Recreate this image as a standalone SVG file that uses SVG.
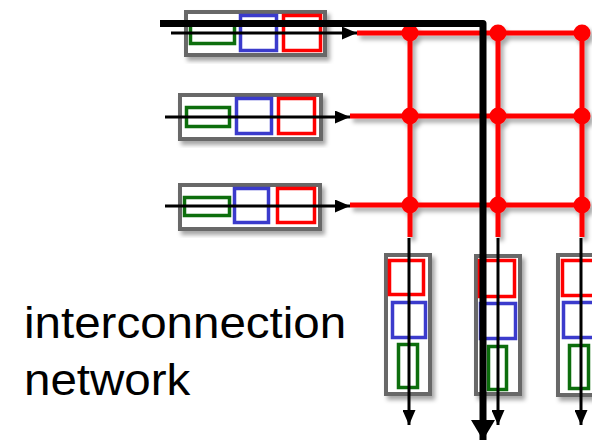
<svg xmlns="http://www.w3.org/2000/svg" width="592" height="441" viewBox="0 0 592 441">
<defs>
<filter id="sh" x="-20%" y="-20%" width="140%" height="140%">
<feDropShadow dx="3" dy="4" stdDeviation="2" flood-color="#000" flood-opacity="0.35"/>
</filter>
<marker id="ah" markerUnits="userSpaceOnUse" markerWidth="15" markerHeight="13" refX="15" refY="6.5" orient="auto">
<path d="M0,0 L15,6.5 L0,13 z" fill="#000"/>
</marker>
<marker id="ahb" markerUnits="userSpaceOnUse" markerWidth="20" markerHeight="24" refX="20" refY="12" orient="auto">
<path d="M0,0 L20,12 L0,24 z" fill="#000"/>
</marker>
</defs>
<style>
.box{fill:#fff;stroke:#686868;stroke-width:4}
.g{fill:none;stroke:#0a6e0a;stroke-width:3.5}
.b{fill:none;stroke:#3a3acc;stroke-width:3.5}
.r{fill:none;stroke:#ff0000;stroke-width:3.5}
.red{stroke:#ff0000;stroke-width:5;fill:none}
.dot{fill:#ff0000}
.thin{stroke:#000;stroke-width:3;fill:none;marker-end:url(#ah)}
.thick{stroke:#000;stroke-width:7;fill:none;stroke-linejoin:round;marker-end:url(#ahb)}
.lbl{font-family:"Liberation Sans",Arial,sans-serif;font-size:44px;fill:#000}
</style>
<g id="in1" filter="url(#sh)">
<rect class="box" x="186" y="12" width="139" height="43"/>
<rect class="g" x="190.5" y="23.5" width="44" height="20"/>
<rect class="b" x="240.5" y="15.5" width="36" height="35"/>
<rect class="r" x="283.5" y="15.5" width="37" height="35"/>
</g>
<g id="in2" filter="url(#sh)">
<rect class="box" x="180" y="95" width="141" height="44"/>
<rect class="g" x="186.5" y="107.5" width="43" height="19"/>
<rect class="b" x="236.5" y="98.5" width="35" height="35"/>
<rect class="r" x="278.5" y="98.5" width="36" height="35"/>
</g>
<g id="in3" filter="url(#sh)">
<rect class="box" x="180" y="185" width="140" height="44"/>
<rect class="g" x="184.5" y="197.5" width="45" height="18"/>
<rect class="b" x="234.5" y="188.5" width="34" height="34"/>
<rect class="r" x="277.5" y="188.5" width="37" height="34"/>
</g>
<g id="out1" filter="url(#sh)">
<rect class="box" x="386" y="255" width="44" height="139"/>
<rect class="r" x="389.5" y="260.5" width="34" height="34"/>
<rect class="b" x="392.5" y="302.5" width="33" height="35"/>
<rect class="g" x="398.5" y="344.5" width="19" height="43"/>
</g>
<g id="out2" filter="url(#sh)">
<rect class="box" x="476" y="256" width="44" height="138"/>
<rect class="r" x="479.5" y="260.5" width="35" height="36"/>
<rect class="b" x="480.5" y="303.5" width="35" height="35"/>
<rect class="g" x="488.5" y="346.5" width="18" height="43"/>
</g>
<g id="out3" filter="url(#sh)">
<rect class="box" x="558" y="255" width="44" height="140"/>
<rect class="r" x="562.5" y="260.5" width="36" height="35"/>
<rect class="b" x="563.5" y="302.5" width="35" height="35"/>
<rect class="g" x="569.5" y="345.5" width="19" height="43"/>
</g>
<g id="grid" filter="url(#sh)">
<path class="red" d="M357,33 H582 M350,116 H582 M350,205 H582 M410,33 V237 M498,33 V237 M582,33 V237"/>
<circle class="dot" cx="410" cy="33" r="8.5"/>
<circle class="dot" cx="498" cy="33" r="8.5"/>
<circle class="dot" cx="582" cy="33" r="8.5"/>
<circle class="dot" cx="410" cy="116" r="8.5"/>
<circle class="dot" cx="498" cy="116" r="8.5"/>
<circle class="dot" cx="582" cy="116" r="8.5"/>
<circle class="dot" cx="410" cy="205" r="8.5"/>
<circle class="dot" cx="498" cy="205" r="8.5"/>
<circle class="dot" cx="582" cy="205" r="8.5"/>
</g>
<g id="connectors">
<line class="thin" x1="171" y1="33" x2="357" y2="33"/>
<line class="thin" x1="165" y1="117" x2="350" y2="117"/>
<line class="thin" x1="165" y1="206" x2="350" y2="206"/>
<line class="thin" x1="409" y1="238" x2="409" y2="425"/>
<line class="thin" x1="498" y1="238" x2="498" y2="425"/>
<line class="thin" x1="581" y1="238" x2="581" y2="425"/>
<path class="thick" d="M160,23.5 H483 V440"/>
</g>
<g id="label">
<text class="lbl" transform="translate(24,338) scale(1.08,1)">interconnection</text>
<text class="lbl" transform="translate(24,395) scale(1.08,1)">network</text>
</g>
</svg>
